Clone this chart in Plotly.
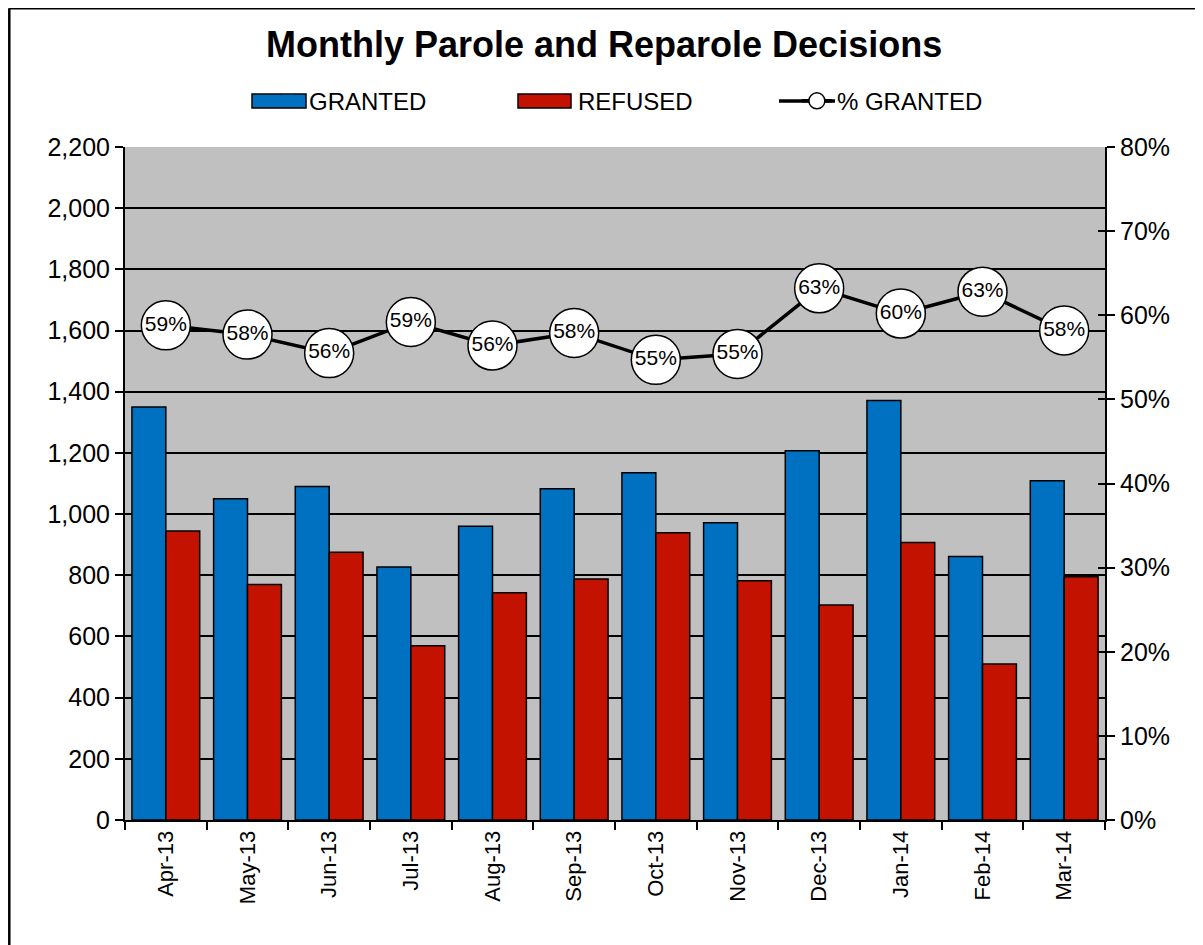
import plotly.graph_objects as go

months = ["Apr-13", "May-13", "Jun-13", "Jul-13", "Aug-13", "Sep-13",
          "Oct-13", "Nov-13", "Dec-13", "Jan-14", "Feb-14", "Mar-14"]
granted = [1350, 1050, 1090, 827, 960, 1083, 1135, 972, 1207, 1371, 861, 1109]
refused = [945, 770, 875, 570, 743, 788, 939, 782, 703, 907, 510, 795]
pct_granted = [0.588, 0.577, 0.555, 0.592, 0.564, 0.579, 0.547, 0.554, 0.632, 0.602, 0.628, 0.582]
pct_labels = ["59%", "58%", "56%", "59%", "56%", "58%", "55%", "55%", "63%", "60%", "63%", "58%"]

FONT = "Liberation Sans, Arial, sans-serif"
BLUE = "#0070C0"
RED = "#C41200"

fig = go.Figure()
fig.add_trace(go.Bar(x=months, y=granted, name="GRANTED", legendgroup="g", showlegend=False,
                     marker=dict(color=BLUE, line=dict(color="black", width=1.5))))
fig.add_trace(go.Bar(x=months, y=refused, name="REFUSED", legendgroup="r", showlegend=False,
                     marker=dict(color=RED, line=dict(color="black", width=1.5))))
fig.add_trace(go.Scatter(x=months, y=pct_granted, name="% GRANTED", yaxis="y2", legend="legend3",
                         mode="lines+markers+text", text=pct_labels,
                         textposition="middle center",
                         textfont=dict(family=FONT, size=21, color="black"),
                         line=dict(color="black", width=3.5),
                         marker=dict(size=49, color="white", line=dict(color="black", width=1.5))))
# legend entries for the bar series (keys widened by shapes below)
fig.add_trace(go.Scatter(x=[None], y=[None], name="GRANTED", legendgroup="g", legend="legend",
                         mode="markers", hoverinfo="skip",
                         marker=dict(symbol="square", size=12, color=BLUE, line=dict(width=0))))
fig.add_trace(go.Scatter(x=[None], y=[None], name="REFUSED", legendgroup="r", legend="legend2",
                         mode="markers", hoverinfo="skip",
                         marker=dict(symbol="square", size=12, color=RED, line=dict(width=0))))
# helper (empty) trace so the inner tick marks of the right axis are drawn
fig.add_trace(go.Scatter(x=[], y=[], yaxis="y3", showlegend=False, hoverinfo="skip"))

leg_common = dict(orientation="h", xanchor="left", y=1.068, yanchor="middle",
                  font=dict(family=FONT, size=24), bgcolor="rgba(0,0,0,0)")

fig.update_layout(
    width=1203, height=945,
    margin=dict(l=117, r=106, t=139, b=133),
    paper_bgcolor="white", plot_bgcolor="#C0C0C0",
    font=dict(family=FONT, size=22, color="black"),
    title=dict(text="<b>Monthly Parole and Reparole Decisions</b>",
               x=0.4955, xanchor="center", y=0.961, yanchor="middle",
               font=dict(family=FONT, size=36, color="black")),
    barmode="group", bargap=0.17, bargroupgap=0,
    showlegend=True,
    legend=dict(x=0.1469, **leg_common),
    legend2=dict(x=0.4214, **leg_common),
    legend3=dict(x=0.6856, **leg_common),
    xaxis=dict(type="category", categoryorder="array", categoryarray=months,
               range=[-0.5, len(months) - 0.5], tickangle=-90,
               showline=True, linecolor="black", linewidth=2,
               ticks="outside", ticklen=8, tickwidth=2, tickcolor="black", tickson="boundaries",
               showgrid=False, tickfont=dict(family=FONT, size=22)),
    yaxis=dict(range=[0, 2200], dtick=200, tickformat=",d", showline=True, linecolor="black",
               linewidth=2, ticks="outside", ticklen=8, tickwidth=2, tickcolor="black",
               showgrid=True, gridcolor="black", gridwidth=2, zeroline=False,
               tickfont=dict(family=FONT, size=25)),
    yaxis2=dict(range=[0, 0.8], dtick=0.1, tickformat=".0%", overlaying="y", side="right",
                showline=True, linecolor="black", linewidth=2, ticks="outside", ticklen=8,
                tickwidth=2, tickcolor="black", showgrid=False, zeroline=False,
                tickfont=dict(family=FONT, size=25)),
    yaxis3=dict(range=[0, 0.8], dtick=0.1, overlaying="y", side="right",
                showline=False, ticks="inside", ticklen=7, tickwidth=2, tickcolor="black",
                showticklabels=False, showgrid=False, zeroline=False),
)

def px(x):
    return (x - 125) / 980

def py(y):
    return (820 - y) / 673

# wide legend keys like the reference
fig.add_shape(type="rect", xref="paper", yref="paper", x0=px(252), x1=px(306),
              y0=py(108), y1=py(94), fillcolor=BLUE, line=dict(color="black", width=1.5))
fig.add_shape(type="rect", xref="paper", yref="paper", x0=px(518), x1=px(571),
              y0=py(108), y1=py(94), fillcolor=RED, line=dict(color="black", width=1.5))
fig.add_shape(type="line", xref="paper", yref="paper", x0=px(779), x1=px(835),
              y0=py(101), y1=py(101), line=dict(color="black", width=3.5))

# chart frame (left and top edges visible in the reference)
fx = px(9.3)
fy = py(8.3)
fig.add_shape(type="line", xref="paper", yref="paper", x0=fx, x1=fx,
              y0=fy, y1=py(950), line=dict(color="black", width=2.5))
fig.add_shape(type="line", xref="paper", yref="paper", x0=fx, x1=px(1210),
              y0=fy, y1=fy, line=dict(color="black", width=2.5))

fig.write_html("out.html")
